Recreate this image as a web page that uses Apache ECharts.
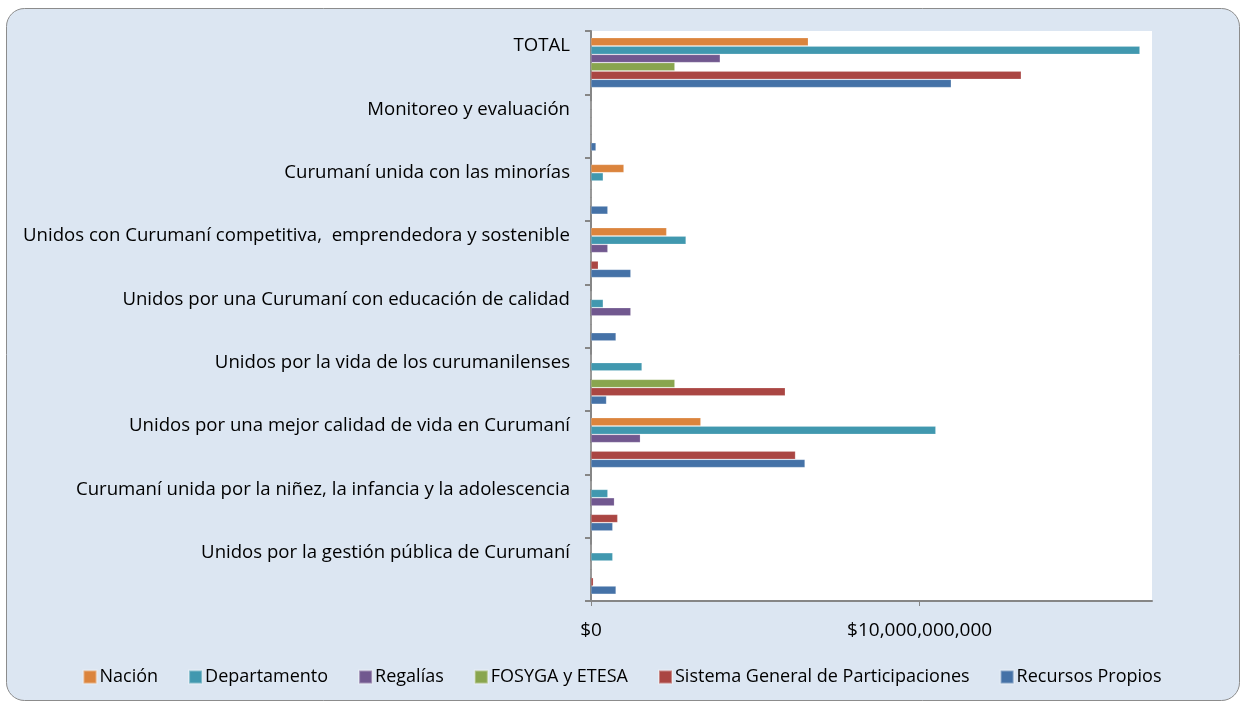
<!DOCTYPE html>
<html>
<head>
<meta charset="utf-8">
<title>Curumaní - fuentes de financiación</title>
<script src="https://cdn.jsdelivr.net/npm/echarts@6/dist/echarts.min.js"></script>
<style>
  html, body { margin: 0; padding: 0; background: #fff; }
  #chart { width: 1244px; height: 704px; }
</style>
</head>
<body>
<div id="chart"></div>
<script>
// categories, top to bottom
const categories = [
  "TOTAL",
  "Monitoreo y evaluación",
  "Curumaní unida con las minorías",
  "Unidos con Curumaní competitiva,  emprendedora y sostenible",
  "Unidos por una Curumaní con educación de calidad",
  "Unidos por la vida de los curumanilenses",
  "Unidos por una mejor calidad de vida en Curumaní",
  "Curumaní unida por la niñez, la infancia y la adolescencia",
  "Unidos por la gestión pública de Curumaní"
];

// values in pesos (billions, x 1e9)
const B = 1e9;
const nacion       = [6.61, 0, 1.00, 2.30, 0, 0, 3.34, 0, 0];
const departamento = [16.70, 0, 0.37, 2.89, 0.37, 1.55, 10.49, 0.51, 0.66];
const regalias     = [3.93, 0, 0, 0.51, 1.21, 0, 1.50, 0.71, 0];
const fosyga       = [2.55, 0, 0, 0, 0, 2.55, 0, 0, 0];
const sgp          = [13.09, 0, 0, 0.22, 0, 5.91, 6.22, 0.81, 0.07];
const propios      = [10.96, 0.15, 0.51, 1.21, 0.76, 0.47, 6.51, 0.66, 0.76];

const xTicks = [0, 10 * B];

const seriesDefs = [
  { name: "Nación", data: nacion, color: "#db843d" },
  { name: "Departamento", data: departamento, color: "#4198af" },
  { name: "Regalías", data: regalias, color: "#71588f" },
  { name: "FOSYGA y ETESA", data: fosyga, color: "#89a54e" },
  { name: "Sistema General de Participaciones", data: sgp, color: "#aa4643" },
  { name: "Recursos Propios", data: propios, color: "#4572a7" }
];

const chart = echarts.init(document.getElementById("chart"), null, { renderer: "canvas" });

const font = "'Open Sans', 'Noto Sans', sans-serif";

chart.setOption({
  animation: false,
  textStyle: { fontFamily: font },
  graphic: [
    {
      type: "rect",
      z: -10,
      shape: { x: 6.5, y: 8.5, width: 1233, height: 692, r: 18 },
      style: { fill: "#dce6f2", stroke: "#8c8c8c", lineWidth: 1 }
    }
  ],
  legend: {
    bottom: 13,
    left: "center",
    icon: "rect",
    itemWidth: 13,
    itemHeight: 13,
    itemGap: 30,
    textStyle: { fontSize: 18, color: "#000", fontFamily: font, padding: [0, 0, 0, -2] },
    data: seriesDefs.map(s => s.name)
  },
  grid: {
    left: 591,
    right: 92,
    top: 31,
    bottom: 103,
    show: true,
    backgroundColor: "#fff",
    borderWidth: 0
  },
  xAxis: {
    type: "value",
    min: 0,
    max: 17.07 * B,
    interval: 10 * B,
    axisLine: { show: true, lineStyle: { color: "#868686", width: 2 } },
    axisTick: { show: true, length: 5, customValues: xTicks, lineStyle: { color: "#868686" } },
    splitLine: { show: true, showMinLine: false, showMaxLine: false, lineStyle: { color: "#868686", width: 2 } },
    axisLabel: {
      fontSize: 19,
      color: "#000",
      margin: 20,
      customValues: xTicks,
      formatter: v => "$" + v.toLocaleString("en-US")
    }
  },
  yAxis: {
    type: "category",
    inverse: true,
    data: categories,
    axisLine: { show: true, lineStyle: { color: "#868686", width: 2 } },
    axisTick: { show: true, length: 6, lineStyle: { color: "#868686", width: 2 } },
    axisLabel: {
      fontSize: 18.6,
      color: "#000",
      margin: 21,
      verticalAlign: "bottom",
      lineHeight: 33
    }
  },
  series: seriesDefs.map(s => ({
    name: s.name,
    type: "bar",
    data: s.data.map(v => v * B),
    barWidth: 8,
    barGap: "4%",
    barCategoryGap: "20%",
    itemStyle: { color: s.color, borderColor: "rgba(255,255,255,0.35)", borderWidth: 0.5 }
  }))
});
</script>
</body>
</html>
